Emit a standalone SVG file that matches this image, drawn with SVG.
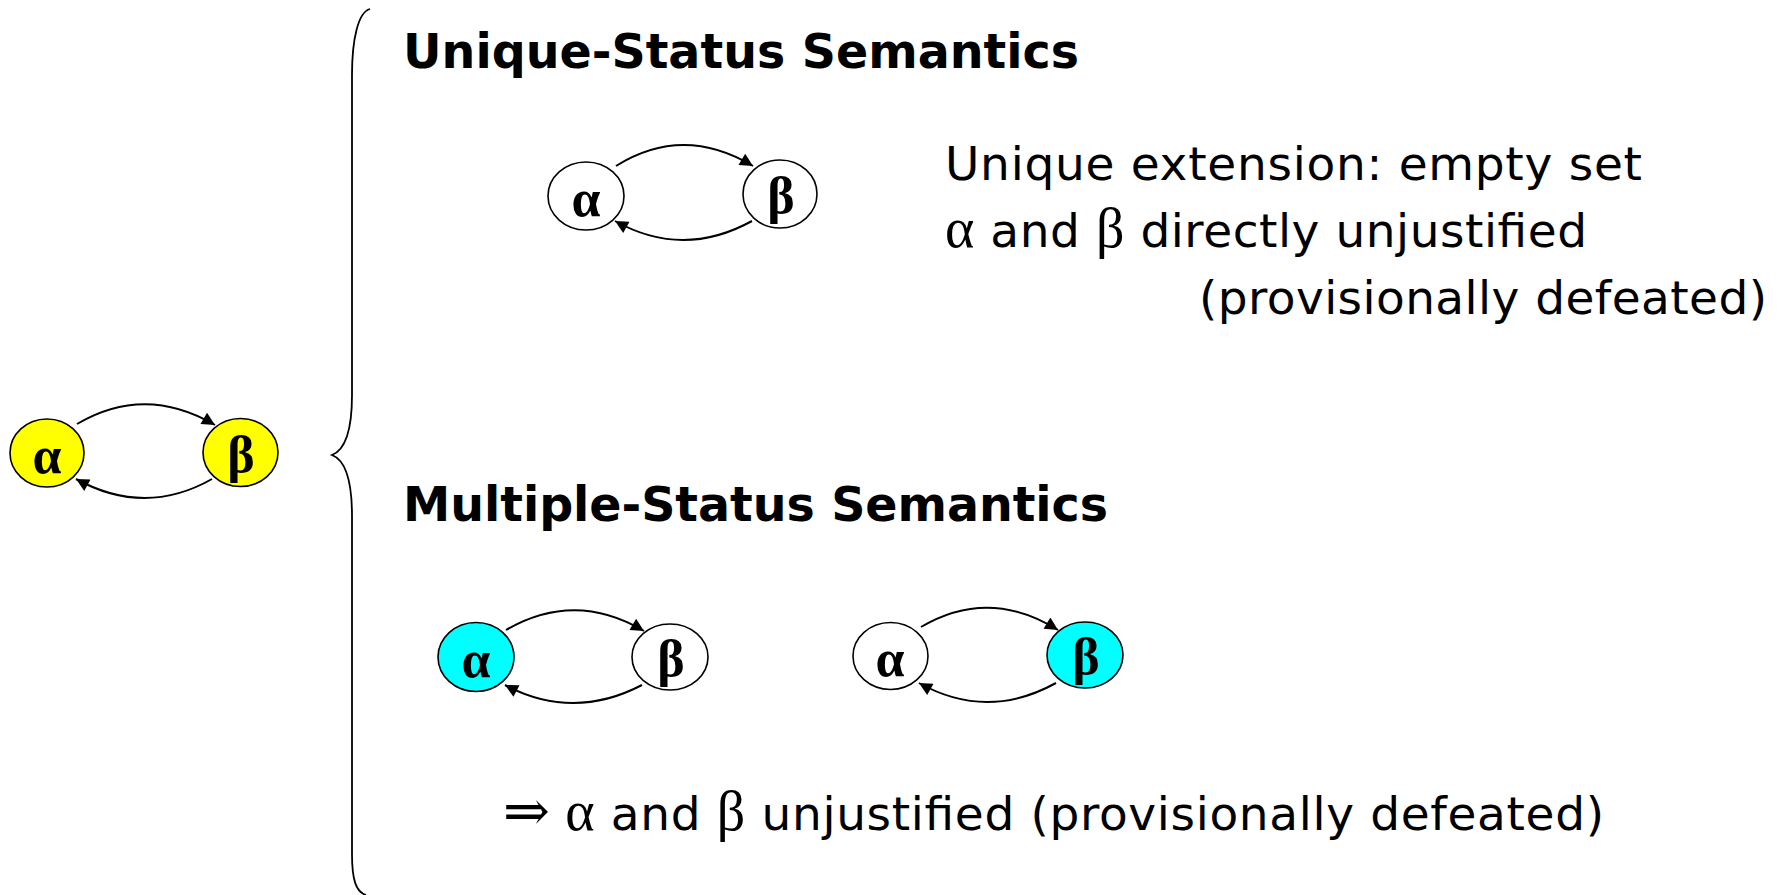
<svg xmlns="http://www.w3.org/2000/svg" width="1782" height="895" viewBox="0 0 1782 895">
<style>
.bg{fill:#ffffff}
.node{stroke:#000;stroke-width:1.6}
.w{fill:#ffffff}
.y{fill:#ffff00}
.c{fill:#00ffff}
.lbl{font-family:"Liberation Serif","DejaVu Serif",serif;font-weight:bold;font-size:52px;text-anchor:middle;fill:#000}
.edge{fill:none;stroke:#000;stroke-width:2;marker-end:url(#ah)}
.title{font-family:"DejaVu Sans",Verdana,sans-serif;font-weight:bold;font-size:47.5px;fill:#000}
.body{font-family:"DejaVu Sans",Verdana,sans-serif;font-size:47px;fill:#000}
.gr{font-family:"Liberation Serif","DejaVu Serif",serif;font-size:56px}
.brace{fill:none;stroke:#000;stroke-width:1.8}
</style>
<defs>
<marker id="ah" viewBox="0 0 10 10" refX="10" refY="5" markerUnits="userSpaceOnUse" markerWidth="17" markerHeight="13" orient="auto">
<path d="M0,0 L10,5 L0,10 z" fill="#000"/>
</marker>
</defs>
<rect class="bg" x="0" y="0" width="1782" height="895"/>

<g id="brace">
<path class="brace" d="M370,9 C358,12 352,40 352,75 L352,395 C352,430 345,450 332,455 C345,460 352,480 352,516 L352,854 C352,880 356,892 366,895"/>
</g>

<g id="connectors">
<path class="edge" d="M77,424 Q145,384 215,425"/>
<path class="edge" d="M212,479 Q145,517 76,479"/>
<path class="edge" d="M616,166 Q683,124 753,166"/>
<path class="edge" d="M752,221 Q683,259 615,221"/>
<path class="edge" d="M506,630 Q575,590 644,631"/>
<path class="edge" d="M642,685 Q573,721 505,685"/>
<path class="edge" d="M921,627 Q989,587 1058,630"/>
<path class="edge" d="M1056,683 Q987,721 919,683"/>
</g>

<g id="n-left-alpha"><ellipse class="node y" cx="47" cy="453" rx="37" ry="34"/><text class="lbl" x="47" y="473">α</text></g>
<g id="n-left-beta"><ellipse class="node y" cx="240.5" cy="452.5" rx="37.5" ry="34"/><text class="lbl" x="241" y="472">β</text></g>

<g id="n-us-alpha"><ellipse class="node w" cx="586" cy="196" rx="38" ry="34"/><text class="lbl" x="586" y="216">α</text></g>
<g id="n-us-beta"><ellipse class="node w" cx="780" cy="194" rx="37" ry="34"/><text class="lbl" x="781" y="213">β</text></g>

<g id="n-ms1-alpha"><ellipse class="node c" cx="476" cy="657" rx="38" ry="34.5"/><text class="lbl" x="476" y="677">α</text></g>
<g id="n-ms1-beta"><ellipse class="node w" cx="670" cy="657" rx="38" ry="33"/><text class="lbl" x="671" y="676">β</text></g>

<g id="n-ms2-alpha"><ellipse class="node w" cx="890.5" cy="656" rx="37.5" ry="33.5"/><text class="lbl" x="890" y="676">α</text></g>
<g id="n-ms2-beta"><ellipse class="node c" cx="1085" cy="655" rx="38" ry="33"/><text class="lbl" x="1086" y="674">β</text></g>

<g id="texts">
<text class="title" x="403" y="68" textLength="676" lengthAdjust="spacing">Unique-Status Semantics</text>
<text class="title" x="403" y="521" textLength="705" lengthAdjust="spacing">Multiple-Status Semantics</text>
<text class="body" x="945" y="180" textLength="697" lengthAdjust="spacing">Unique extension: empty set</text>
<text class="body" x="945" y="247" textLength="642" lengthAdjust="spacing"><tspan class="gr">α</tspan> and <tspan class="gr">β</tspan> directly unjustified</text>
<text class="body" x="1199" y="314" textLength="568" lengthAdjust="spacing">(provisionally defeated)</text>
<text class="body" x="503" y="830" textLength="1101" lengthAdjust="spacing"><tspan class="gr">⇒ α</tspan> and <tspan class="gr">β</tspan> unjustified (provisionally defeated)</text>
</g>
</svg>
